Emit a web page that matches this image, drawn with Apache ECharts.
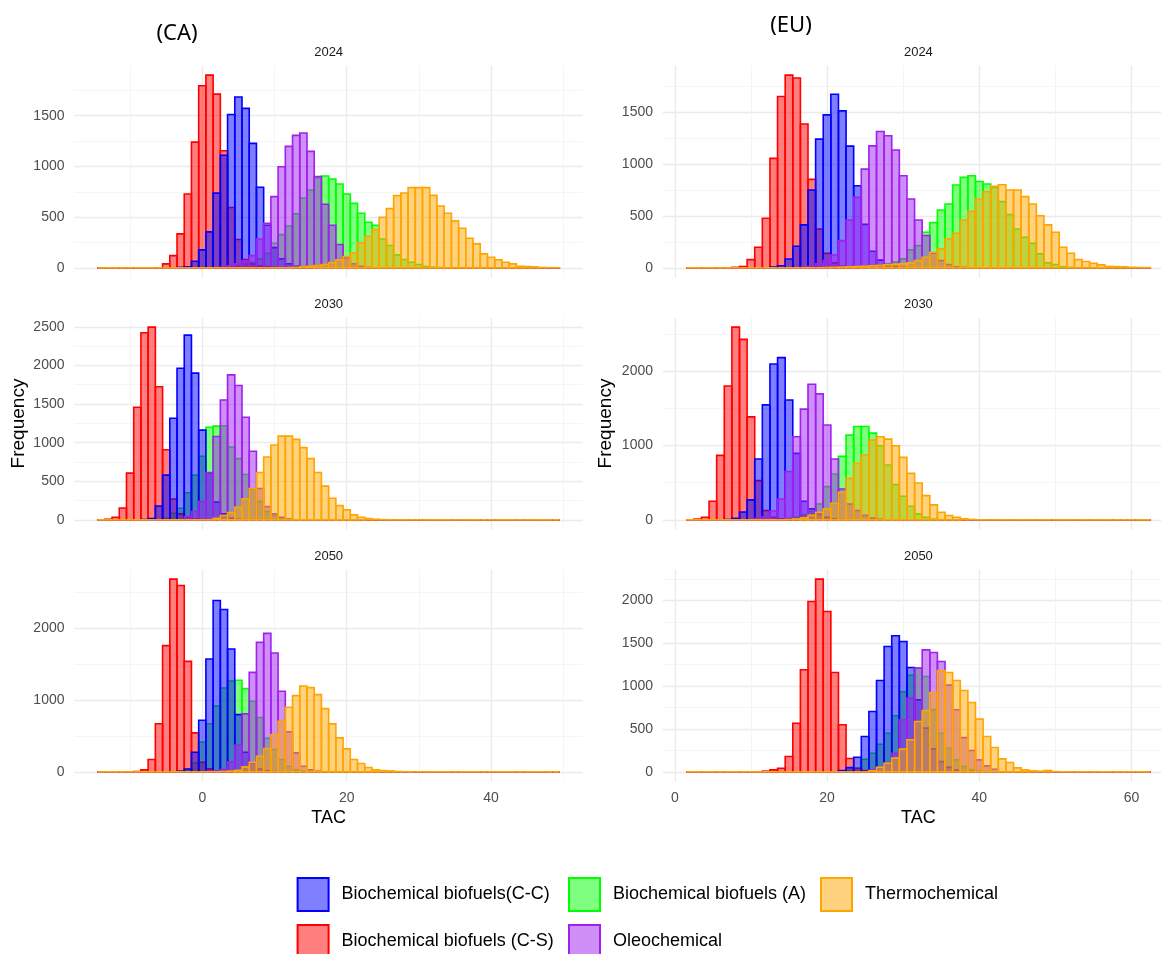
<!DOCTYPE html>
<html><head><meta charset="utf-8">
<script src="https://cdn.jsdelivr.net/npm/echarts@6/dist/echarts.min.js"></script>
<style>html,body{margin:0;padding:0;background:#fff}#c{width:1161px;height:954px}</style>
</head><body><div id="c"></div>
<script>
// ---------------- data ----------------
// series in drawing order (bottom -> top)
const seriesNames  = ['Biochemical biofuels (A)', 'Biochemical biofuels (C-S)', 'Biochemical biofuels(C-C)', 'Oleochemical', 'Thermochemical'];
const seriesStroke = ['#00FF00', '#FF0000', '#0000FF', '#A020F0', '#FFA500'];
const seriesFill   = ['rgba(0,255,0,0.5)', 'rgba(255,0,0,0.5)', 'rgba(0,0,255,0.5)', 'rgba(160,32,240,0.5)', 'rgba(255,165,0,0.5)'];
const years = ['2024', '2030', '2050'];
const regions = ['(CA)', '(EU)'];
// histogram bin centres (bin width 1): first and last bin of each region
const caBins = [-14, 49];
const euBins = [2, 62];

// first bin centre of each series, order as seriesNames
const ca2024From = [3, -5, -3, 3, 13];
const ca2024_A      = [5, 10, 20, 35, 55, 89, 144, 243, 328, 413, 532, 689, 768, 886, 906, 876, 827, 728, 636, 538, 450, 420, 285, 220, 128, 82, 56, 33, 13, 6, 3];
const ca2024_CS     = [39, 121, 335, 728, 1240, 1795, 1900, 1713, 1155, 595, 280, 82, 39, 20, 10, 5];
const ca2024_CC     = [5, 10, 65, 177, 355, 737, 1110, 1512, 1684, 1572, 1227, 794, 420, 200, 90, 40, 15, 5];
const ca2024_Oleo   = [8, 20, 40, 72, 121, 285, 440, 702, 997, 1198, 1306, 1329, 1148, 899, 627, 420, 230, 100, 40, 15, 5];
const ca2024_Thermo = [5, 10, 15, 23, 33, 52, 79, 112, 148, 246, 312, 377, 499, 584, 712, 738, 791, 791, 791, 715, 610, 538, 463, 391, 292, 236, 138, 105, 79, 56, 39, 16, 13, 10, 3, 2, 1];

const ca2030From = [-5, -13, -8, -2, 2];
const ca2030_A      = [20, 86, 150, 352, 579, 823, 1200, 1214, 1218, 943, 793, 587, 400, 240, 110, 60, 20, 8];
const ca2030_CS     = [8, 34, 154, 605, 1458, 2423, 2496, 1724, 909, 270, 77, 34, 10, 3];
const ca2030_CC     = [5, 17, 180, 579, 1316, 1964, 2393, 1900, 1162, 610, 230, 80, 25, 8];
const ca2030_Oleo   = [40, 107, 236, 613, 1080, 1552, 1878, 1741, 1329, 888, 407, 172, 77, 34, 10];
const ca2030_Thermo = [20, 56, 94, 163, 274, 407, 613, 815, 969, 1085, 1085, 1042, 935, 793, 613, 437, 279, 184, 129, 64, 34, 17, 8, 3];

const ca2050From = [-3, -9, -3, 1, 3];
const ca2050_A      = [10, 40, 125, 415, 669, 916, 1166, 1262, 1273, 1157, 981, 755, 468, 310, 171, 79, 30, 10, 3];
const ca2050_CS     = [5, 28, 171, 669, 1755, 2680, 2592, 1537, 542, 134, 42, 10, 3];
const ca2050_CC     = [8, 40, 273, 718, 1569, 2382, 2257, 1708, 796, 273, 125, 40, 15, 5];
const ca2050_Oleo   = [8, 15, 32, 139, 370, 806, 1384, 1801, 1926, 1653, 1120, 556, 264, 79, 30, 10];
const ca2050_Thermo = [5, 10, 23, 69, 134, 218, 324, 519, 704, 898, 1060, 1194, 1171, 1074, 880, 667, 472, 319, 171, 116, 60, 28, 18, 14, 5, 2];

const eu2024From = [25, 8, 13, 17, 20];
const eu2024_A      = [5, 12, 25, 40, 55, 87, 174, 215, 344, 437, 559, 617, 800, 874, 890, 835, 810, 778, 640, 514, 376, 296, 238, 135, 48, 32, 10, 4];
const eu2024_CS     = [5, 13, 80, 199, 480, 1058, 1655, 1862, 1835, 1390, 855, 375, 141, 48, 15, 5];
const eu2024_CC     = [8, 20, 85, 209, 415, 752, 1244, 1478, 1677, 1517, 1176, 794, 420, 160, 75, 30, 10, 4];
const eu2024_Oleo   = [5, 15, 39, 71, 125, 263, 463, 681, 954, 1179, 1317, 1276, 1138, 890, 665, 463, 312, 141, 71, 32, 10, 4];
const eu2024_Thermo = [3, 5, 8, 10, 13, 16, 20, 25, 30, 35, 40, 48, 71, 103, 151, 183, 280, 334, 463, 546, 665, 736, 787, 803, 752, 752, 688, 617, 504, 415, 344, 199, 141, 80, 61, 45, 29, 13, 12, 10, 5, 3, 2];

const eu2030From = [14, 3, 7, 11, 15];
const eu2030_A      = [10, 20, 36, 71, 112, 214, 446, 616, 853, 1138, 1254, 1254, 1165, 995, 737, 473, 317, 183, 80, 36, 10];
const eu2030_CS     = [10, 36, 250, 866, 1799, 2589, 2424, 1384, 527, 125, 36, 10, 3];
const eu2030_CC     = [5, 20, 105, 268, 817, 1545, 2094, 2179, 1610, 893, 250, 147, 80, 36, 12, 4];
const eu2030_Oleo   = [20, 40, 120, 280, 650, 1116, 1487, 1821, 1692, 1275, 817, 415, 214, 125, 60, 25, 8];
const eu2030_Thermo = [5, 12, 27, 60, 100, 147, 223, 370, 558, 759, 875, 1071, 1116, 1085, 995, 839, 625, 496, 326, 201, 103, 58, 36, 15, 5];

const eu2050From = [22, 12, 22, 26, 26];
const eu2050_A      = [5, 15, 43, 148, 218, 323, 451, 654, 934, 1128, 1210, 1113, 724, 451, 276, 140, 62, 23, 8];
const eu2050_CS     = [8, 23, 43, 179, 568, 1191, 1988, 2249, 1872, 1160, 549, 156, 43, 15];
const eu2050_CC     = [15, 50, 171, 412, 704, 1066, 1463, 1588, 1521, 1218, 840, 510, 268, 120, 55, 20];
const eu2050_Oleo   = [20, 50, 101, 218, 607, 860, 1210, 1424, 1393, 1288, 1012, 724, 400, 249, 140, 70, 31];
const eu2050_Thermo = [12, 54, 101, 160, 265, 374, 588, 716, 926, 1183, 1160, 1066, 949, 809, 615, 412, 284, 152, 109, 47, 23, 12, 8, 16, 3];

// ---------------- layout ----------------
const FONT = "'Liberation Sans', Arial, sans-serif";
const colLeft  = [74.5, 663.0];
const pxPerUnit = [7.22, 7.612];
const rowTop = [65.5, 317.5, 569.5];
const panelH = 212;

const panels = [
  {col: 0, row: 0, bins: caBins, from: ca2024From, lists: [ca2024_A, ca2024_CS, ca2024_CC, ca2024_Oleo, ca2024_Thermo], split: 5},
  {col: 0, row: 1, bins: caBins, from: ca2030From, lists: [ca2030_A, ca2030_CS, ca2030_CC, ca2030_Oleo, ca2030_Thermo], split: 5},
  {col: 0, row: 2, bins: caBins, from: ca2050From, lists: [ca2050_A, ca2050_CS, ca2050_CC, ca2050_Oleo, ca2050_Thermo], split: 3},
  {col: 1, row: 0, bins: euBins, from: eu2024From, lists: [eu2024_A, eu2024_CS, eu2024_CC, eu2024_Oleo, eu2024_Thermo], split: 5},
  {col: 1, row: 1, bins: euBins, from: eu2030From, lists: [eu2030_A, eu2030_CS, eu2030_CC, eu2030_Oleo, eu2030_Thermo], split: 3},
  {col: 1, row: 2, bins: euBins, from: eu2050From, lists: [eu2050_A, eu2050_CS, eu2050_CC, eu2050_Oleo, eu2050_Thermo], split: 5}
];

function binData(from, counts, bins) {
  const out = [];
  for (let c = bins[0]; c <= bins[1]; c++) {
    const i = c - from;
    const v = (i >= 0 && i < counts.length) ? counts[i] : 0;
    out.push([c - 0.5, c + 0.5, v]);
  }
  return out;
}

function makeRender(k) {
  return function (params, api) {
    const a = api.coord([api.value(0), api.value(2)]);
    const b = api.coord([api.value(1), 0]);
    return {
      type: 'rect',
      shape: {x: a[0], y: a[1], width: b[0] - a[0], height: b[1] - a[1]},
      style: {fill: seriesFill[k], stroke: seriesStroke[k], lineWidth: 1.6}
    };
  };
}

const grids = [], xAxes = [], yAxes = [], series = [], graphics = [];
const majorLine = {show: true, showMinLine: false, showMaxLine: false, lineStyle: {color: '#EBEBEB', width: 1.3}};
const minorLine = {show: true, lineStyle: {color: '#F3F3F3', width: 0.8}};

panels.forEach((p, gi) => {
  const lo = p.bins[0] - 0.5, hi = p.bins[1] + 0.5, ex = (hi - lo) * 0.05;
  const xmin = lo - ex, xmax = hi + ex;
  const width = (xmax - xmin) * pxPerUnit[p.col];
  grids.push({left: colLeft[p.col], top: rowTop[p.row], width: width, height: panelH,
    containLabel: false, outerBoundsMode: 'none'});
  let M = 0;
  p.lists.forEach(l => l.forEach(v => { if (v > M) M = v; }));
  xAxes.push({
    gridIndex: gi, type: 'value', min: xmin, max: xmax, splitNumber: 3,
    axisLine: {show: false}, axisTick: {show: false},
    axisLabel: {show: p.row === 2, showMinLabel: false, showMaxLabel: false, color: '#4D4D4D', fontSize: 14, fontFamily: FONT, margin: 10,
      formatter: v => (Math.abs(v % 20) < 1e-6 ? String(Math.round(v)) : '')},
    splitLine: majorLine, minorTick: {show: false, splitNumber: 2}, minorSplitLine: minorLine
  });
  yAxes.push({
    gridIndex: gi, type: 'value', min: -0.05 * M, max: 1.05 * M, splitNumber: p.split,
    axisLine: {show: false}, axisTick: {show: false},
    axisLabel: {showMinLabel: false, showMaxLabel: false, color: '#4D4D4D', fontSize: 14, fontFamily: FONT, margin: 10,
      formatter: v => (Math.abs(v % 500) < 1e-6 ? String(Math.round(v)) : '')},
    splitLine: majorLine, minorTick: {show: false, splitNumber: 2}, minorSplitLine: minorLine
  });
  p.lists.forEach((counts, k) => {
    series.push({
      type: 'custom', name: seriesNames[k], xAxisIndex: gi, yAxisIndex: gi,
      renderItem: makeRender(k), clip: false, silent: true,
      itemStyle: {color: seriesFill[k], borderColor: seriesStroke[k], borderWidth: 1.6},
      encode: {x: [0, 1], y: 2},
      data: binData(p.from[k], counts, p.bins), z: 2 + k
    });
  });
  // facet strip label
  graphics.push({type: 'text', x: colLeft[p.col] + width / 2, y: rowTop[p.row] - 13,
    style: {text: years[p.row], font: '13px ' + FONT, fill: '#1A1A1A', align: 'center', verticalAlign: 'middle'}});
  if (p.row === 2) {
    graphics.push({type: 'text', x: colLeft[p.col] + width / 2, y: 818,
      style: {text: 'TAC', font: '18px ' + FONT, fill: '#000000', align: 'center', verticalAlign: 'middle'}});
  }
});

// region titles and y-axis titles
graphics.push({type: 'text', x: 177, y: 34, style: {text: regions[0], font: '22px "Noto Sans", sans-serif', fill: '#000', align: 'center', verticalAlign: 'middle'}});
graphics.push({type: 'text', x: 791, y: 26, style: {text: regions[1], font: '22px "Noto Sans", sans-serif', fill: '#000', align: 'center', verticalAlign: 'middle'}});
graphics.push({type: 'text', x: 19, y: 423.5, rotation: Math.PI / 2, style: {text: 'Frequency', font: '19px ' + FONT, fill: '#000', align: 'center', verticalAlign: 'middle'}});
graphics.push({type: 'text', x: 605.5, y: 423.5, rotation: Math.PI / 2, style: {text: 'Frequency', font: '19px ' + FONT, fill: '#000', align: 'center', verticalAlign: 'middle'}});

// legend: order and placement as in the reference
const legendOrder = [2, 0, 4, 1, 3];
const legendPos = [[296.6, 877], [568, 877], [820, 877], [296.6, 924], [568, 924]];
const legends = legendOrder.map((k, i) => ({
  left: legendPos[i][0], top: legendPos[i][1], padding: 0, selectedMode: false,
  itemWidth: 31, itemHeight: 33,
  textStyle: {fontSize: 18, fontFamily: FONT, color: '#000', padding: [0, 0, 0, 8]},
  data: [{name: seriesNames[k], icon: 'rect', itemStyle: {color: seriesFill[k], borderColor: seriesStroke[k], borderWidth: 2}}]
}));

const chart = echarts.init(document.getElementById('c'), null, {renderer: 'canvas'});
chart.setOption({
  backgroundColor: '#ffffff', animation: false,
  grid: grids, xAxis: xAxes, yAxis: yAxes, series: series,
  legend: legends, graphic: graphics
});
</script></body></html>
